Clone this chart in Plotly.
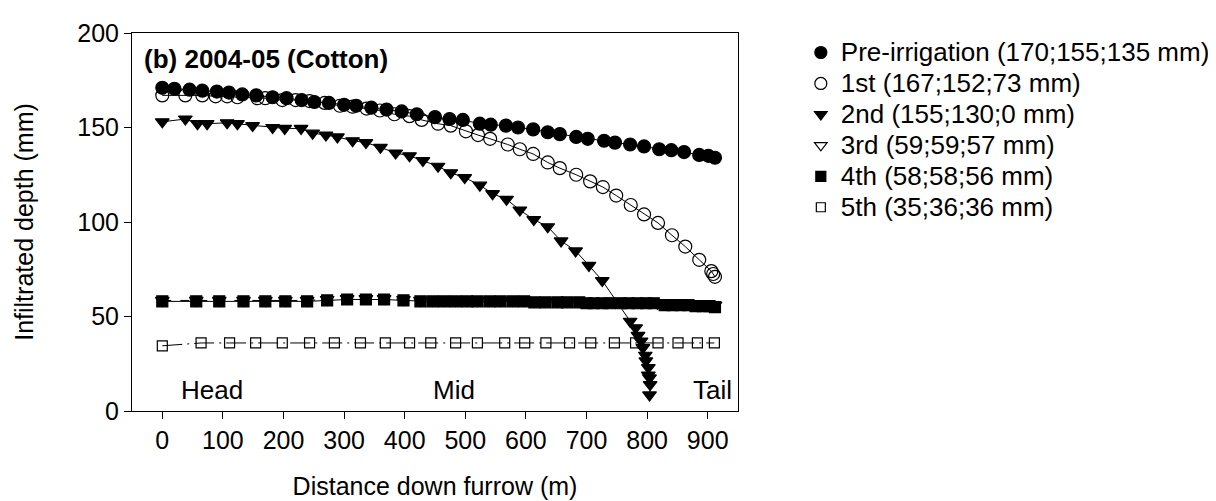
import plotly.graph_objects as go

# ---------------- data ----------------
pre_x = [0, 20, 45, 66, 90, 110, 132, 155, 182, 205, 230, 251, 275, 300, 320, 345, 370, 395, 420, 450,
         474, 496, 524, 542, 567, 587, 612, 636, 656, 683, 702, 729, 747, 772, 795, 820, 840, 861, 886, 901, 912]
pre_y = [171, 170.5, 170, 169.5, 169, 168.5, 167.5, 167, 166, 165.5, 164.5, 163.5, 163, 162, 161.5, 160.5, 159.5, 158.5, 157, 155.5,
         154.5, 154, 152, 151.5, 151, 150, 149, 147.5, 146.5, 145, 144, 143, 142, 141, 140, 138.5, 138, 137, 135.5, 135, 134]

first_x = [0, 38, 66, 88, 107, 124, 157, 170, 198, 220, 243, 268, 293, 314, 337, 359, 383, 408, 428, 455,
           476, 501, 521, 541, 570, 590, 612, 636, 656, 683, 706, 727, 749, 773, 795, 818, 841, 863, 886, 906, 909, 912]
first_y = [167, 167, 167, 166.5, 166.5, 166, 165.5, 165.5, 164.5, 164.5, 164, 163, 161.5, 161, 160, 159, 157, 156, 154, 152,
           151, 148, 146, 144, 141, 138.5, 136, 131.5, 128.5, 125, 121.5, 118.5, 114, 109, 104, 99.5, 93, 87, 80, 74, 72.5, 71]

second_x = [0, 38, 58, 74, 107, 124, 149, 182, 202, 229, 248, 270, 289, 314, 336, 360, 385, 408, 430, 455,
            476, 499, 524, 545, 568, 590, 613, 636, 658, 682, 704, 726, 772, 781, 785, 790, 793, 797, 798, 802, 802, 804, 805, 804]
second_y = [153, 154.5, 152, 152, 152.5, 152, 151, 150, 149.5, 149.5, 147, 146, 145, 143, 142, 139.5, 136.5, 135, 132.5, 129.5,
            126, 123.5, 119.5, 115, 112, 106.3, 101.3, 97.5, 90, 84.7, 77, 69, 47.5, 44, 40, 37, 33.5, 29.5, 26.5, 23, 19, 17.5, 14, 8.5]

third_x = [0, 56, 94, 134, 170, 203, 239, 272, 305, 336, 366, 398, 426, 446, 465, 484, 503, 520, 540, 558,
           578, 597, 614, 632, 652, 668, 688, 700, 712, 726, 747, 770, 784, 798, 817, 842, 868, 892, 912]
third_y = [58.5, 58.5, 58.5, 58.5, 58.5, 58.5, 58.5, 59, 59.5, 59.5, 59.5, 59, 58.5, 58.5, 58.5, 58.5, 58.5, 58.5, 58.5, 58.5,
           58.5, 58.5, 58, 58, 58, 58, 58, 57.5, 57.5, 57.5, 58, 57.5, 57.5, 57.5, 57, 56.5, 56.5, 56, 56]

fourth_x = [0, 56, 94, 134, 170, 203, 239, 272, 305, 336, 366, 398, 426, 446, 465, 484, 503, 520, 540, 558,
            578, 597, 614, 632, 652, 668, 688, 700, 712, 726, 738, 757, 770, 784, 798, 811, 829, 842, 855, 868,
            880, 892, 903, 912]
fourth_y = [58, 58, 58, 58, 58, 58, 58, 58.5, 59, 59, 59, 58.5, 58, 58, 58, 58, 58, 58, 58, 58,
            58, 58, 57.5, 57.5, 57.5, 57.5, 57.5, 57, 57, 57, 57, 57, 57, 57, 57, 57, 56, 56, 56, 56,
            55.5, 55.5, 55.5, 55]

fifth_x = [0, 64, 111, 154, 198, 243, 284, 327, 368, 408, 443, 484, 520, 565, 598, 633, 672, 707, 746, 781,
           818, 851, 883, 911]
fifth_y = [34.5, 36, 36, 36, 36, 36, 36, 36, 36, 36, 36, 36, 36, 36, 36, 36, 36, 36, 36, 36,
           36, 36, 36, 36]

legend_names = ["Pre-irrigation (170;155;135 mm)", "1st (167;152;73 mm)", "2nd (155;130;0 mm)",
                "3rd (59;59;57 mm)", "4th (58;58;56 mm)", "5th (35;36;36 mm)"]

x_ticks = [0, 100, 200, 300, 400, 500, 600, 700, 800, 900]
y_ticks = [0, 50, 100, 150, 200]

# ---------------- styles ----------------
FONT = "Liberation Sans, Arial, sans-serif"
FS = 25
styles = [
    dict(symbol="circle", size=13, dash="solid"),
    dict(symbol="circle-open", size=13, dash="solid"),
    dict(symbol="triangle-down", size=12, dash="solid"),
    dict(symbol="triangle-down-open", size=12, dash="dash"),
    dict(symbol="square", size=11, dash="solid"),
    dict(symbol="square-open", size=10, dash="20px,5px,2px,5px"),
]
series = [(pre_x, pre_y), (first_x, first_y), (second_x, second_y),
          (third_x, third_y), (fourth_x, fourth_y), (fifth_x, fifth_y)]

fig = go.Figure()
for (xs, ys), st in zip(series, styles):
    fig.add_trace(go.Scatter(
        x=xs, y=ys, mode="lines+markers", showlegend=False,
        line=dict(color="black", width=1, dash=st["dash"]),
        marker=dict(symbol=st["symbol"], size=st["size"], color="black",
                    line=dict(color="black", width=1.2)),
    ))
for st, name in zip(styles, legend_names):
    fig.add_trace(go.Scatter(
        x=[None], y=[None], mode="markers",
        name='<span style="font-size:26px">' + name + '</span>',
        marker=dict(symbol=st["symbol"], size=st["size"] - 1, color="black",
                    line=dict(color="black", width=1.2)),
    ))

TFS = 26
annotations = [
    dict(x=-33, y=186, text="<b>(b) 2004-05 (Cotton)</b>", xanchor="left", yanchor="middle", showarrow=False,
         font=dict(size=TFS, family=FONT, color="black")),
    dict(x=82, y=11, text="Head", xanchor="center", yanchor="middle", showarrow=False,
         font=dict(size=TFS, family=FONT, color="black")),
    dict(x=482, y=11, text="Mid", xanchor="center", yanchor="middle", showarrow=False,
         font=dict(size=TFS, family=FONT, color="black")),
    dict(x=944, y=11, text="Tail", xanchor="right", yanchor="middle", showarrow=False,
         font=dict(size=TFS, family=FONT, color="black")),
]

fig.update_layout(
    template="none",
    width=1216, height=501,
    margin=dict(l=124, r=486, t=25, b=98, autoexpand=False),
    paper_bgcolor="white", plot_bgcolor="white",
    font=dict(family=FONT, size=FS, color="black"),
    showlegend=True,
    legend=dict(xref="container", yref="container", x=0.652, y=0.952, xanchor="left", yanchor="top",
                font=dict(size=21.5, family=FONT, color="black"), bgcolor="rgba(0,0,0,0)",
                borderwidth=0, tracegroupgap=0, itemwidth=30),
    annotations=annotations,
    xaxis=dict(range=[-50, 950], tickmode="array", tickvals=x_ticks, ticks="outside", ticklen=7,
               tickwidth=1, tickcolor="black", showline=True, linecolor="black", linewidth=1, mirror=True,
               showgrid=False, zeroline=False, automargin=False,
               tickfont=dict(size=FS, family=FONT, color="black"),
               title=dict(text="Distance down furrow (m)", font=dict(size=FS, family=FONT), standoff=24)),
    yaxis=dict(range=[0, 200], tickmode="array", tickvals=y_ticks, ticks="outside", ticklen=7,
               tickwidth=1, tickcolor="black", showline=True, linecolor="black", linewidth=1, mirror=True,
               showgrid=False, zeroline=False, automargin=False,
               tickfont=dict(size=FS, family=FONT, color="black"),
               title=dict(text="Infiltrated depth (mm)", font=dict(size=FS, family=FONT), standoff=36)),
)

fig.write_html("out.html")
